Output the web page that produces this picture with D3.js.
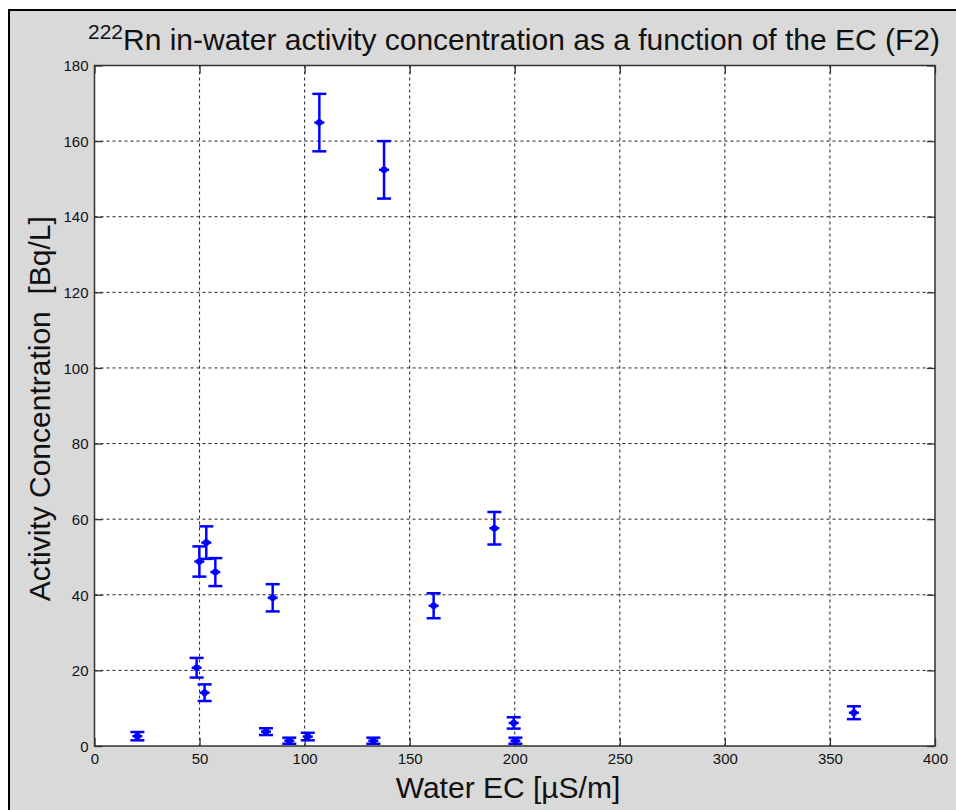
<!DOCTYPE html>
<html><head><meta charset="utf-8">
<script src="https://cdn.jsdelivr.net/npm/d3@7"></script>
<style>
html,body{margin:0;padding:0;background:#fff;}
svg{display:block;font-family:"Liberation Sans",Arial,Helvetica,sans-serif;}
</style></head>
<body>
<svg id="chart" width="956" height="810"></svg>
<script>
// Data
const ecValues = [20.4, 48.6, 49.9, 52.4, 53.2, 57.5, 81.6, 84.8, 92.7, 101.5, 107.0, 132.7, 137.8, 161.4, 190.3, 199.5, 200.3, 361.4];
const activityValues = [2.6, 20.7, 48.8, 14.1, 53.8, 46.0, 3.8, 39.2, 1.4, 2.5, 164.9, 1.4, 152.4, 37.1, 57.6, 6.1, 1.4, 8.8];
const errorValues = [1.1, 2.6, 4.0, 2.2, 4.3, 3.7, 0.9, 3.6, 0.8, 1.0, 7.6, 0.8, 7.6, 3.3, 4.3, 1.5, 0.8, 1.7];
const xTicks = [0, 50, 100, 150, 200, 250, 300, 350, 400];
const yTicks = [0, 20, 40, 60, 80, 100, 120, 140, 160, 180];

const points = ecValues.map((x, i) => ({x, y: activityValues[i], e: errorValues[i]}));

const svg = d3.select("#chart");
const W = 956, H = 810;
const pL = 94.5, pR = 935, pT = 65.5, pB = 746;

// figure background
svg.append("rect").attr("x", 9).attr("y", 10).attr("width", W).attr("height", H)
  .attr("fill", "#d9d9d9").attr("stroke", "#000").attr("stroke-width", 2);

const x = d3.scaleLinear().domain([0, 400]).range([pL, pR]);
const y = d3.scaleLinear().domain([0, 180]).range([pB, pT]);

// plot area
svg.append("rect").attr("x", pL).attr("y", pT).attr("width", pR - pL).attr("height", pB - pT)
  .attr("fill", "#fff");

// grid
const grid = svg.append("g");
grid.selectAll(".gx").data(xTicks.slice(1, -1)).join("line")
  .attr("x1", d => x(d)).attr("x2", d => x(d)).attr("y1", pT).attr("y2", pB)
  .attr("stroke", "#222").attr("stroke-width", 1).attr("stroke-dasharray", "3,3");
grid.selectAll(".gy").data(yTicks.slice(1, -1)).join("line")
  .attr("x1", pL).attr("x2", pR).attr("y1", d => y(d)).attr("y2", d => y(d))
  .attr("stroke", "#222").attr("stroke-width", 1).attr("stroke-dasharray", "3,3");

// axes
const fs = 15;
const xAxis = d3.axisBottom(x).tickValues(xTicks).tickSizeInner(-8).tickSizeOuter(0).tickPadding(14).tickFormat(d3.format("d"));
const yAxis = d3.axisLeft(y).tickValues(yTicks).tickSizeInner(-8).tickSizeOuter(0).tickPadding(14).tickFormat(d3.format("d"));
const gx = svg.append("g").attr("transform", `translate(0,${pB})`).call(xAxis);
const gy = svg.append("g").attr("transform", `translate(${pL},0)`).call(yAxis);
const gxt = svg.append("g").attr("transform", `translate(0,${pT})`).call(d3.axisTop(x).tickValues(xTicks).tickSizeInner(-8).tickSizeOuter(0).tickFormat(""));
const gyr = svg.append("g").attr("transform", `translate(${pR},0)`).call(d3.axisRight(y).tickValues(yTicks).tickSizeInner(-8).tickSizeOuter(0).tickFormat(""));
[gx, gy, gxt, gyr].forEach(g => {
  g.select(".domain").remove();
  g.selectAll("line").attr("stroke", "#333").attr("stroke-width", 1.3);
  g.selectAll("text").attr("fill", "#111").style("font-size", fs + "px")
   .style("font-family", '"Liberation Sans",Arial,sans-serif');
});
gx.selectAll("text").attr("y", 7).attr("dy", "0.71em");
gy.selectAll("text").attr("x", -6).attr("dy", "0.35em");

// box
svg.append("rect").attr("x", pL).attr("y", pT).attr("width", pR - pL).attr("height", pB - pT)
  .attr("fill", "none").attr("stroke", "#333").attr("stroke-width", 1.5);

// error bars
const blue = "#0000ff";
const eb = svg.append("g");
const cap = 7;
const gp = eb.selectAll("g").data(points).join("g");
gp.append("line").attr("x1", d => x(d.x)).attr("x2", d => x(d.x))
  .attr("y1", d => y(d.y + d.e)).attr("y2", d => y(d.y - d.e))
  .attr("stroke", blue).attr("stroke-width", 2.5);
gp.append("line").attr("x1", d => x(d.x) - cap).attr("x2", d => x(d.x) + cap)
  .attr("y1", d => y(d.y + d.e)).attr("y2", d => y(d.y + d.e))
  .attr("stroke", blue).attr("stroke-width", 2.5);
gp.append("line").attr("x1", d => x(d.x) - cap).attr("x2", d => x(d.x) + cap)
  .attr("y1", d => y(d.y - d.e)).attr("y2", d => y(d.y - d.e))
  .attr("stroke", blue).attr("stroke-width", 2.5);
gp.append("line").attr("x1", d => x(d.x) - 5).attr("x2", d => x(d.x) + 5)
  .attr("y1", d => y(d.y)).attr("y2", d => y(d.y))
  .attr("stroke", blue).attr("stroke-width", 2.5);
gp.append("circle").attr("cx", d => x(d.x)).attr("cy", d => y(d.y)).attr("r", 3.3).attr("fill", blue);

// title
const title = svg.append("text").attr("x", 514).attr("y", 50)
  .attr("text-anchor", "middle").attr("fill", "#111").style("font-size", "30px");
title.append("tspan").text("222").style("font-size", "21px").attr("dy", "-11");
title.append("tspan").text("Rn in-water activity concentration as a function of the EC (F2)").attr("dy", "11");

// axis labels
svg.append("text").attr("x", 508).attr("y", 798).attr("text-anchor", "middle")
  .attr("fill", "#111").style("font-size", "30px").text("Water EC [\u00b5S/m]");
svg.append("text").attr("transform", `translate(50,${(pT + pB) / 2 + 3}) rotate(-90)`)
  .attr("text-anchor", "middle").attr("fill", "#111").style("font-size", "30px")
  .style("white-space", "pre").attr("xml:space", "preserve")
  .text("Activity Concentration  [Bq/L]");
</script>
</body></html>
